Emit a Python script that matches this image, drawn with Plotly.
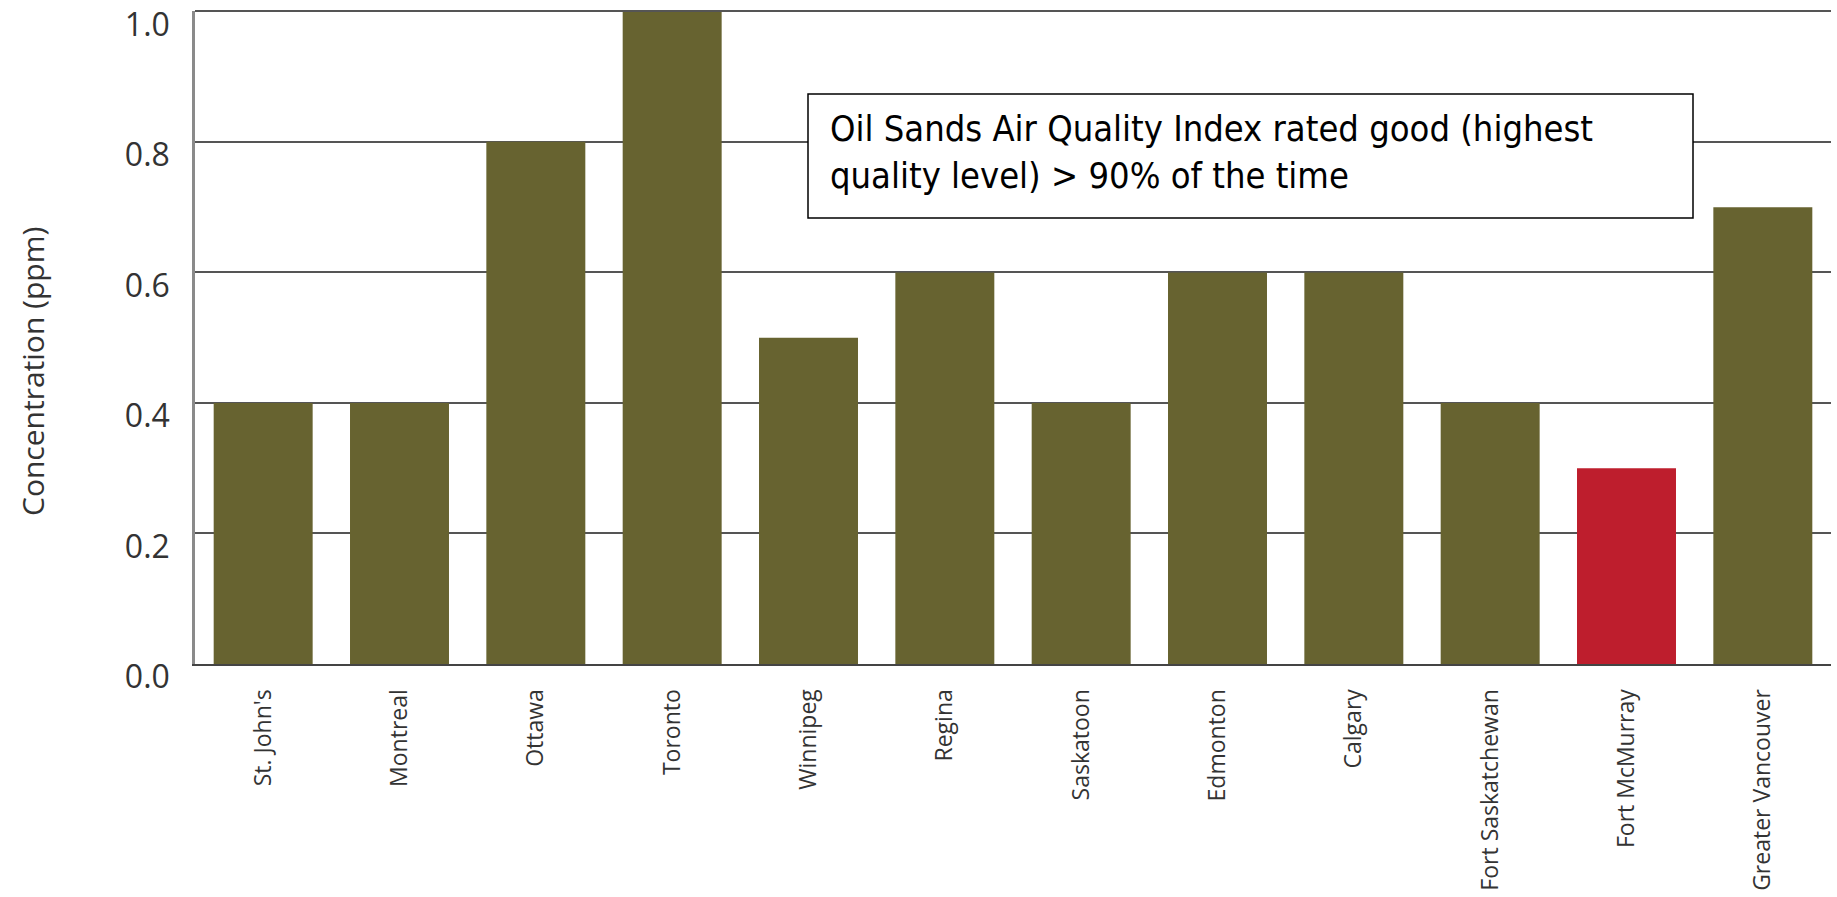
import plotly.graph_objects as go

cities = ["St. John's", "Montreal", "Ottawa", "Toronto", "Winnipeg", "Regina",
          "Saskatoon", "Edmonton", "Calgary", "Fort Saskatchewan",
          "Fort McMurray", "Greater Vancouver"]
values = [0.4, 0.4, 0.8, 1.0, 0.5, 0.6, 0.4, 0.6, 0.6, 0.4, 0.3, 0.7]
highlight = "Fort McMurray"
y_ticks = [0.0, 0.2, 0.4, 0.6, 0.8, 1.0]
y_title = "Concentration (ppm)"
note_lines = ["Oil Sands Air Quality Index rated good (highest",
              "quality level) > 90% of the time"]

OLIVE = "#676330"
RED = "#BE1E2D"
colors = [RED if c == highlight else OLIVE for c in cities]

fig = go.Figure(go.Bar(x=cities, y=values, marker=dict(color=colors, line=dict(width=0)),
                       hoverinfo="x+y"))

W, H = 1837, 897
ml, mr, mt, mb = 195, 6, 11, 233

fig.update_layout(
    width=W, height=H,
    margin=dict(l=ml, r=mr, t=mt, b=mb, pad=0, autoexpand=False),
    paper_bgcolor="white", plot_bgcolor="white",
    bargap=0.274,
    showlegend=False,
    font=dict(family="Open Sans", color="#333333"),
)

fig.update_xaxes(
    type="category", range=[-0.5, len(cities) - 0.5], automargin=False,
    tickangle=-90, tickfont=dict(family="Open Sans", size=23, color="#333333"),
    showgrid=False, showline=True, linecolor="#444444", linewidth=2,
    ticks="", ticklabelstandoff=14, zeroline=False, ticklabeloverflow="allow",
)

fig.update_yaxes(
    range=[0, 1.0005], tickvals=y_ticks, ticktext=[f"{v:.1f}" for v in y_ticks],
    tickfont=dict(family="Open Sans", size=32, color="#333333"), automargin=False,
    showgrid=True, gridcolor="#555555", gridwidth=1.5,
    showline=True, linecolor="#8a8a8a", linewidth=2.5,
    ticks="", ticklabelstandoff=16, ticklabelshift=13, zeroline=False,
    ticklabeloverflow="allow",
)

pw = W - ml - mr
ph = H - mt - mb
def px_x(p):
    return (p - ml) / pw
def px_y(p):
    return (H - mb - p) / ph

# top border line at 1.0
fig.add_shape(type="line", xref="paper", yref="paper", x0=0, x1=1, y0=1.0, y1=1.0,
              line=dict(color="#555555", width=2), layer="above")

# y-axis title
fig.add_annotation(xref="paper", yref="paper", x=px_x(32), y=px_y(372),
                   xanchor="center", yanchor="middle", textangle=-90, showarrow=False,
                   text=y_title,
                   font=dict(family="Open Sans", size=30, color="#333333"))

fig.add_shape(type="rect", xref="paper", yref="paper",
              x0=px_x(808), x1=px_x(1693), y0=px_y(218), y1=px_y(94),
              line=dict(color="black", width=1.5), fillcolor="white", layer="above")
fig.add_annotation(xref="paper", yref="paper", x=px_x(828), y=px_y(152),
                   xanchor="left", yanchor="middle", align="left", showarrow=False,
                   text="<br>".join(note_lines),
                   font=dict(family="DejaVu Sans Condensed, Liberation Sans", size=36, color="black"))

fig.write_html("out.html")
